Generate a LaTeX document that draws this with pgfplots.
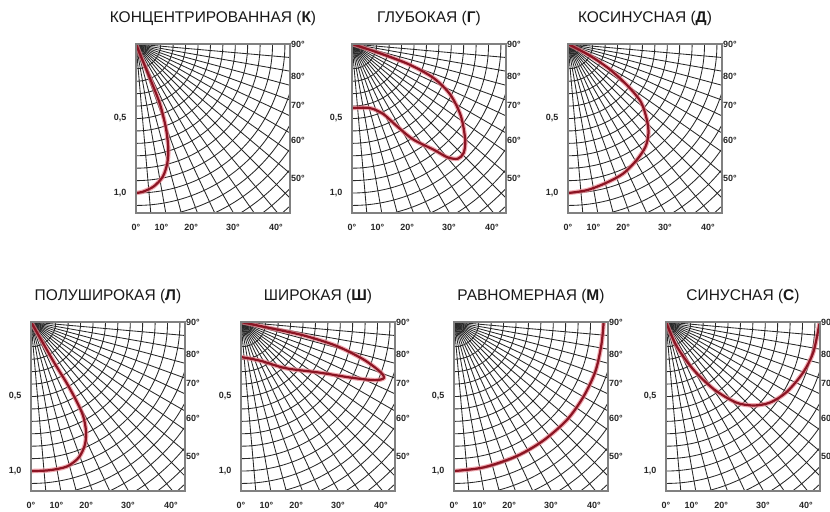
\documentclass[border=0pt]{standalone}
\usepackage{fontspec}
\setmainfont{Liberation Sans}
\usepackage{pgfplots}
\usepackage{pgfplotstable}
\pgfplotsset{compat=1.18}
\definecolor{curvered}{RGB}{140,20,35}
\definecolor{halo}{RGB}{235,135,145}
\definecolor{gridc}{RGB}{40,40,40}

% Curves: x = I*sin(theta), y = I*cos(theta) (y measured downwards), I in relative units
\pgfplotstableread{
x y
0 0
0.04 0.10
0.094 0.23
0.16 0.40
0.20 0.56
0.217 0.70
0.21 0.80
0.18 0.89
0.12 0.955
0.05 0.99
0 1.0
}\curveK
\pgfplotstableread{
x y
0 0
0.21 0.07
0.39 0.14
0.55 0.23
0.66 0.34
0.73 0.48
0.76 0.64
0.75 0.73
0.71 0.77
0.64 0.76
0.55 0.71
0.41 0.64
0.30 0.55
0.21 0.47
0.12 0.43
0 0.43
}\curveG
\pgfplotstableread{
x y
0 0
0.15 0.08
0.28 0.17
0.40 0.28
0.49 0.39
0.53 0.51
0.54 0.60
0.52 0.69
0.46 0.78
0.37 0.87
0.26 0.93
0.13 0.98
0 1.0
}\curveD
\pgfplotstableread{
x y
0 0
0.08 0.14
0.16 0.28
0.24 0.41
0.30 0.52
0.35 0.63
0.37 0.74
0.36 0.83
0.32 0.91
0.24 0.97
0.12 0.995
0 1.0
}\curveL
\pgfplotstableread{
x y
0 0
0.19 0.04
0.42 0.09
0.64 0.16
0.82 0.25
0.93 0.33
0.96 0.375
0.90 0.39
0.75 0.375
0.53 0.34
0.30 0.31
0.13 0.26
0 0.235
}\curveSh
\pgfplotstableread{
x y
0 1.0
0.2 0.975
0.42 0.90
0.60 0.795
0.76 0.655
0.87 0.50
0.95 0.33
0.99 0.15
1.005 0.0
}\curveM
\pgfplotstableread{
x y
0 0
0.07 0.16
0.18 0.315
0.32 0.45
0.47 0.54
0.59 0.56
0.70 0.54
0.81 0.47
0.92 0.34
0.99 0.20
1.03 0.01
}\curveS

\newcommand{\lightgrid}{%
  \pgfplotsinvokeforeach{0.0833,0.1667,0.25,0.3333,0.4167,0.5,0.5833,0.6667,0.75,0.8333,0.9167,1.0,1.0833,1.1667,1.25,1.3333,1.4167,1.5,1.5833}{%
    \draw[gridc, line width=0.85bp] (axis cs:0,0) circle[radius=##1];}
  \pgfplotsinvokeforeach{5,10,...,85}{%
    \draw[gridc, line width=0.85bp] (axis cs:0,0) -- (axis cs:{1.8*sin(##1)},{1.8*cos(##1)});}
}
\newcommand{\lightcurve}[1]{%
  \addplot[halo, line width=4.5bp, smooth, opacity=0.7] table {#1};
  \addplot[curvered, line width=2.2bp, smooth] table {#1};
}
\newcommand{\ticklabfont}{\fontsize{9bp}{10bp}\selectfont\bfseries}

\pgfplotsset{
  lightpanel/.style={
    scale only axis, width=154bp, height=169bp,
    xmin=0, xmax=1.034, ymin=0, ymax=1.134, y dir=reverse,
    anchor=north west, clip=true, axis on top,
    axis line style={draw=black!50, line width=1.3bp},
    tick style={draw=none},
    ytick={0.5,1.0}, yticklabels={{0,5},{1,0}},
    xtick={0,0.17,0.37,0.65,0.94},
    xticklabels={0°,10°,20°,30°,40°},
    tick label style={font=\ticklabfont, text=black!85},
    yticklabel style={xshift=-6bp},
    xticklabel style={yshift=-8bp},
    title style={font=\fontsize{15.5bp}{16bp}\selectfont, text=black!90,
      at={(0.5,1)}, anchor=base, yshift=16bp},
    after end axis/.append code={
      \foreach \v/\t in {0/90,0.215/80,0.41/70,0.646/60,0.90/50}
        \node[anchor=west, font=\ticklabfont, text=black!85, inner sep=1bp]
          at (axis cs:1.034,\v) {\t°};
    },
  }
}

\begin{document}
\begin{tikzpicture}
\useasboundingbox (0bp,0bp) rectangle (830bp,-512bp);

\begin{axis}[lightpanel, at={(136bp,-44bp)}, title={КОНЦЕНТРИРОВАННАЯ (\textbf{К})}]
\lightgrid
\lightcurve{\curveK}
\end{axis}

\begin{axis}[lightpanel, at={(352bp,-44bp)}, title={ГЛУБОКАЯ (\textbf{Г})}]
\lightgrid
\lightcurve{\curveG}
\end{axis}

\begin{axis}[lightpanel, at={(568bp,-44bp)}, title={КОСИНУСНАЯ (\textbf{Д})}]
\lightgrid
\lightcurve{\curveD}
\end{axis}

\begin{axis}[lightpanel, at={(31bp,-322bp)}, title={ПОЛУШИРОКАЯ (\textbf{Л})}]
\lightgrid
\lightcurve{\curveL}
\end{axis}

\begin{axis}[lightpanel, at={(241bp,-322bp)}, title={ШИРОКАЯ (\textbf{Ш})}]
\lightgrid
\lightcurve{\curveSh}
\end{axis}

\begin{axis}[lightpanel, at={(454bp,-322bp)}, title={РАВНОМЕРНАЯ (\textbf{М})}]
\lightgrid
\lightcurve{\curveM}
\end{axis}

\begin{axis}[lightpanel, at={(666bp,-322bp)}, title={СИНУСНАЯ (\textbf{С})}]
\lightgrid
\lightcurve{\curveS}
\end{axis}

\end{tikzpicture}
\end{document}
